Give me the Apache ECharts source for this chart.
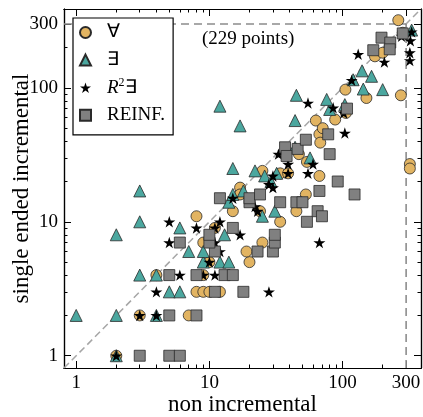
<!DOCTYPE html>
<html>
<head>
<meta charset="utf-8">
<script src="https://cdn.jsdelivr.net/npm/echarts@6/dist/echarts.min.js"></script>
<style>
html, body { margin: 0; padding: 0; background: #fff; }
#chart { width: 423px; height: 417px; }
</style>
</head>
<body>
<div id="chart"></div>
<script>
// [non incremental, single ended incremental]
var forallPts = [
  [2,1],[3,2],[4,4],[8,3],[9,3],[10,3],[12,3],[9,4],[10,5],[20,5],[7,2],[8,11],[11,9],[9,7],
  [19,6],[25,7],[34,10],[24,12],[45,12],[53,16],[15,12],[17,18],[17,16],[25,24],[34,23],[39,23],
  [47,32],[54,28],[67,22],[67,45],[68,39],[63,57],[71,50],[88,58],[106,65],[105,97],[151,84],
  [175,172],[200,183],[262,320],[283,258],[274,88],[320,27],[320,25]
];
var existsPts = [
  [2,1],[1,2],[2,2],[4,2],[3,4],[4,4],[5,3],[6,3],[9,5],[12,5],[14,5],[7,6],[9,6],[2,8],[3,10],
  [3,17],[6,9],[13,8],[14,14],[18,17],[15,16],[15,25],[22,24],[26,22],[29,20],[32,23],[25,11],
  [31,12],[12,73],[17,52],[45,88],[44,57],[57,30],[44,36],[80,69],[76,82],[104,75],[120,115],
  [140,134],[165,122],[143,98],[200,97],[330,270]
];
var r2Pts = [
  [2,1],[3,2],[4,2],[4,3],[6,4],[9,4],[11,4],[28,3],[10,5],[12,6],[5,7],[5,10],[8,9],[11,9],
  [12,10],[11,7],[17,8],[15,15],[22,13],[23,12],[28,19],[30,18],[30,22],[33,32],[39,27],[39,23],
  [55,23],[60,27],[67,7],[104,46],[55,77],[85,71],[102,65],[117,114],[131,178],[206,156],
  [277,243],[330,262],[323,225],[320,183],[320,160]
];
var reinfPts = [
  [3,1],[5,1],[6,1],[5,2],[8,2],[5,4],[8,4],[13,4],[15,4],[11,3],[18,3],[11,6],[23,6],[30,6],
  [6,7],[10,7],[31,7],[31,8],[10,8],[15,9],[12,15],[20,14],[20,15],[24,16],[34,14],[45,14],
  [50,14],[54,10],[65,12],[70,11],[67,17],[92,20],[123,16],[37,36],[38,31],[46,35],[53,41],
  [80,32],[78,45],[108,70],[170,191],[196,237],[228,218],[226,194],[283,255]
];
var seriesNames = ['∀', '∃', 'R²∃', 'REINF.'];
var majorTicks = [1, 10, 100, 300];
var minorTicks = [2, 3, 4, 5, 6, 7, 8, 9, 20, 30, 40, 50, 60, 70, 80, 90, 200];
var axisMin = 0.81, axisMax = 388, cutoff = 300;

var FONT = 'Liberation Serif';
var STAR = 'path://M0,-1L0.2245,-0.309L0.951,-0.309L0.363,0.118L0.588,0.809L0,0.382L-0.588,0.809L-0.363,0.118L-0.951,-0.309L-0.2245,-0.309Z';

function makeAxis(pos, ticks, len, showLabel) {
  var ax = {
    type: 'log',
    position: pos,
    min: axisMin,
    max: axisMax,
    nameMoveOverlap: false,
    axisLine: { show: true, onZero: false, lineStyle: { color: '#000', width: 1.2 } },
    axisTick: { show: true, inside: true, length: len, customValues: ticks, lineStyle: { color: '#000', width: 1 } },
    axisLabel: { show: showLabel, customValues: ticks, fontFamily: FONT, fontSize: 19, color: '#000', margin: 6 },
    splitLine: { show: false },
    minorTick: { show: false }
  };
  return ax;
}

var xAxes = [
  makeAxis('bottom', majorTicks, 7, true),
  makeAxis('bottom', minorTicks, 3.5, false),
  makeAxis('top', majorTicks, 7, false),
  makeAxis('top', minorTicks, 3.5, false)
];
xAxes[0].name = 'non incremental';
xAxes[0].nameLocation = 'middle';
xAxes[0].nameGap = 25;
xAxes[0].nameTextStyle = { fontFamily: FONT, fontSize: 23, color: '#000' };

var yAxes = [
  makeAxis('left', majorTicks, 7, true),
  makeAxis('left', minorTicks, 3.5, false),
  makeAxis('right', majorTicks, 7, false),
  makeAxis('right', minorTicks, 3.5, false)
];
yAxes[0].name = 'single ended incremental';
yAxes[0].nameLocation = 'middle';
yAxes[0].nameGap = 31;
yAxes[0].nameTextStyle = { fontFamily: FONT, fontSize: 23, color: '#000' };

var edge = { borderColor: '#2a2a2a', borderWidth: 0.8 };

var option = {
  animation: false,
  backgroundColor: '#fff',
  grid: { left: 64, right: 2, top: 9, bottom: 49, containLabel: false, outerBoundsMode: 'none' },
  xAxis: xAxes,
  yAxis: yAxes,
  title: {
    text: '(229 points)',
    left: 202, top: 30,
    padding: 0,
    textStyle: { fontFamily: FONT, fontSize: 19, fontWeight: 'normal', color: '#000' }
  },
  legend: {
    orient: 'vertical',
    left: 73, top: 18,
    padding: [4, 8, 9, 6],
    itemGap: 6.6,
    itemWidth: 11, itemHeight: 11,
    borderColor: '#000', borderWidth: 1.2, borderRadius: 0,
    backgroundColor: '#fff',
    data: seriesNames,
    formatter: function (name) {
      return name === 'R²∃' ? '{i|R}{s|2}{n|∃}' : '{n|' + name + '}';
    },
    textStyle: {
      fontFamily: FONT, fontSize: 19, color: '#000', lineHeight: 21, padding: [0, 0, 0, 11],
      rich: {
        n: { fontFamily: FONT, fontSize: 19, lineHeight: 21 },
        i: { fontFamily: FONT, fontSize: 19, fontStyle: 'italic', lineHeight: 21 },
        s: { fontFamily: FONT, fontSize: 12, lineHeight: 12, verticalAlign: 'top' }
      }
    }
  },
  series: [
    {
      type: 'line', silent: true, symbol: 'none', z: 1,
      data: [[axisMin, axisMin], [axisMax, axisMax]],
      lineStyle: { color: '#a6a6a6', width: 1.5, type: [7, 4] }
    },
    {
      type: 'line', silent: true, symbol: 'none', z: 1,
      data: [[axisMin, cutoff], [cutoff, cutoff]],
      lineStyle: { color: '#8c8c8c', width: 1.6, type: [8, 5] }
    },
    {
      type: 'line', silent: true, symbol: 'none', z: 1,
      data: [[cutoff, axisMin], [cutoff, cutoff]],
      lineStyle: { color: '#8c8c8c', width: 1.6, type: [8, 5] }
    },
    {
      name: seriesNames[0], type: 'scatter', symbol: 'circle', symbolSize: 11,
      data: forallPts,
      itemStyle: Object.assign({ color: '#e2b462', opacity: 1 }, edge)
    },
    {
      name: seriesNames[1], type: 'scatter', symbol: 'triangle', symbolSize: 12,
      data: existsPts,
      itemStyle: Object.assign({ color: '#4ba79f', opacity: 1 }, edge)
    },
    {
      name: seriesNames[2], type: 'scatter', symbol: STAR, symbolKeepAspect: true, symbolSize: 12,
      data: r2Pts,
      itemStyle: { color: '#000', opacity: 1 }
    },
    {
      name: seriesNames[3], type: 'scatter', symbol: 'rect', symbolSize: 11,
      data: reinfPts,
      itemStyle: Object.assign({ color: '#808080', opacity: 1 }, edge)
    }
  ]
};

var chart = echarts.init(document.getElementById('chart'), null, { renderer: 'canvas' });
chart.setOption(option);
</script>
</body>
</html>
